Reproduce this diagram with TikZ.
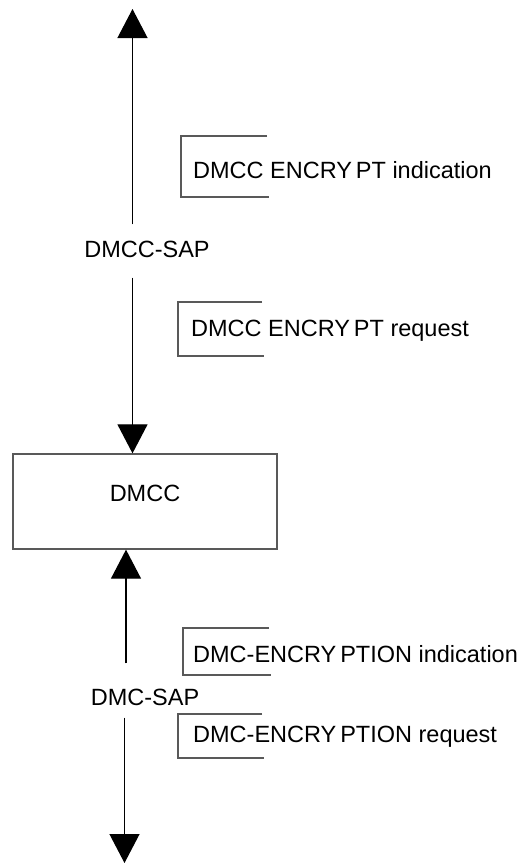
\documentclass[tikz,border=0pt]{standalone}
\usepackage{fontspec}
\setmainfont{Liberation Sans}
\usetikzlibrary{arrows.meta}
\begin{document}
\begin{tikzpicture}[x=1pt,y=-1pt,
    lbl/.style={font=\fontsize{23.5}{28}\selectfont, inner sep=0pt},
    arr/.style={-{Triangle[width=30pt,length=29pt]}, line width=1.2pt},
    frm/.style={draw=black!65, line width=1.3pt}]
    \useasboundingbox (0,0) rectangle (520,863);
    % free ends of the two outer arrows
    \coordinate (top) at (132.5,9);
    \coordinate (bot) at (124.5,863);
    % labels and the entity
    \node[lbl] (dmccsap) at (147,249) {DMCC-SAP};
    \node[frm, minimum width=264pt, minimum height=95pt] (dmcc) at (145,501.5) {};
    \node[lbl] (dmcclbl) at (145,493) {DMCC};
    \node[lbl] (dmcsap) at (145,697) {DMC-SAP};
    \node[lbl, anchor=west] (dmccind) at (193,170) {DMCC ENCRY\,PT indication};
    \node[lbl, anchor=west] (dmccreq) at (191,331) {DMCC ENCRY\,PT request};
    \node[lbl, anchor=west] (dmcind) at (193,654) {DMC-ENCRY\,PTION indication};
    \node[lbl, anchor=west] (dmcreq) at (193,737) {DMC-ENCRY\,PTION request};
    % primitive frames
    \draw[frm] (267,136) -- (181,136) -- (181,197) -- (269,197);
    \draw[frm] (262,302) -- (178,302) -- (178,356) -- (264,356);
    \draw[frm] (269,628) -- (183,628) -- (183,675) -- (271,675);
    \draw[frm] (262,714) -- (178,714) -- (178,758) -- (264,758);
    % arrows
    \draw[arr] ([yshift=16pt]dmccsap.north -| top) -- (top);
    \draw[arr] ([yshift=-20pt]dmccsap.south -| top) -- (dmcc.north -| top);
    \draw[arr] ([yshift=25pt]dmcsap.north -| 126,0) -- (dmcc.south -| 126,0);
    \draw[arr] ([yshift=-12pt]dmcsap.south -| bot) -- (bot);
\end{tikzpicture}
\end{document}
